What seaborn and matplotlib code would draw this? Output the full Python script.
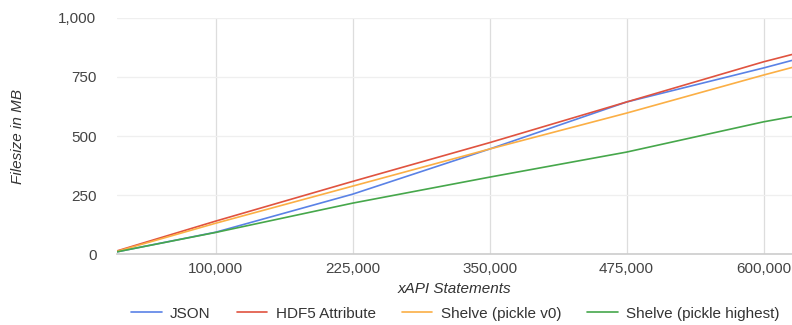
import numpy as np
import pandas as pd
import matplotlib
matplotlib.use("Agg")
import matplotlib.pyplot as plt
from matplotlib.ticker import FuncFormatter
import seaborn as sns

# values (filesize in MB per number of xAPI statements)
statements = [10000, 100000, 225000, 350000, 475000, 600000, 626000]
json_mb    = [10, 93, 254, 445, 644, 788, 820]
hdf5_mb    = [14, 140, 308, 472, 644, 814, 845]
pickle0_mb = [12, 131, 288, 445, 597, 758, 790]
pickleh_mb = [10, 92, 216, 326, 432, 560, 582]
series = ["JSON", "HDF5 Attribute", "Shelve (pickle v0)", "Shelve (pickle highest)"]
colors = ["#5a82e6", "#e0533f", "#fbaf45", "#46a74b"]

df = pd.DataFrame({"xAPI Statements": statements * 4,
                   "MB": json_mb + hdf5_mb + pickle0_mb + pickleh_mb,
                   "format": [s for s in series for _ in statements]})

sns.set_theme(style="white")
plt.rcParams["font.family"] = ["Liberation Sans", "DejaVu Sans"]

fig = plt.figure(figsize=(7.92, 3.25), dpi=100)
ax = fig.add_axes([0.148, 0.218, 0.852, 0.727])
sns.lineplot(data=df, x="xAPI Statements", y="MB", hue="format", hue_order=series,
             palette=colors, linewidth=1.2, ax=ax, legend=False)

ax.set_xlim(10000, 626000)
ax.set_ylim(0, 1000)
ax.set_xticks([100000, 225000, 350000, 475000, 600000])
ax.set_yticks([0, 250, 500, 750, 1000])
fmt = FuncFormatter(lambda v, p: f"{int(v):,}")
ax.xaxis.set_major_formatter(fmt)
ax.yaxis.set_major_formatter(fmt)
ax.tick_params(labelsize=11, colors="#444444", length=0, pad=6)
ax.tick_params(axis="y", pad=15)

ax.grid(axis="x", color="#dddddd", linewidth=0.9)
ax.grid(axis="y", color="#efefef", linewidth=0.9)
ax.set_axisbelow(True)
for s in ["top", "right", "left"]:
    ax.spines[s].set_visible(False)
ax.spines["bottom"].set_color("#cccccc")
ax.spines["bottom"].set_linewidth(1.2)

ax.set_xlabel("xAPI Statements", fontsize=11, style="italic", color="#333333", labelpad=4)
ax.set_ylabel("Filesize in MB", fontsize=11, style="italic", color="#333333", labelpad=24)

handles = [plt.Line2D([], [], color=c, linewidth=1.2) for c in colors]
fig.legend(handles, series, loc="center", bbox_to_anchor=(0.575, 0.035), ncol=4,
           frameon=False, fontsize=11, handlelength=2.0, handletextpad=0.55,
           columnspacing=1.7, labelcolor="#333333")

fig.savefig("out.png", dpi=100)
